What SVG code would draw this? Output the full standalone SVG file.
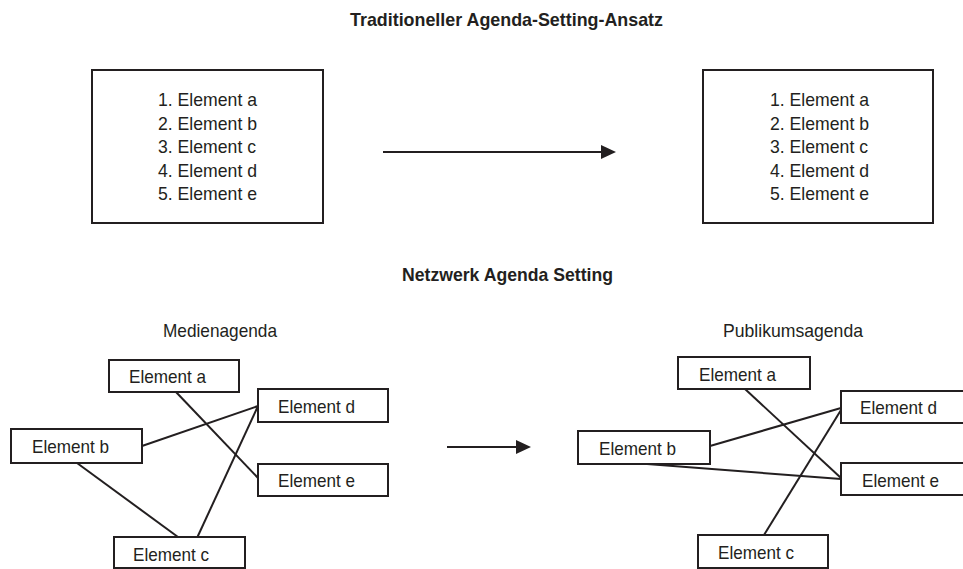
<svg xmlns="http://www.w3.org/2000/svg" width="963" height="569" viewBox="0 0 963 569">
<style>
  text { font-family: "Liberation Sans", Arial, sans-serif; font-size: 19px; fill: #231f20; }
  .title { font-weight: bold; }
  .box { fill: #ffffff; stroke: #231f20; stroke-width: 2; }
  .edge { stroke: #231f20; stroke-width: 2; fill: none; }
  .arrow { stroke: #231f20; stroke-width: 2.2; fill: none; marker-end: url(#head); }
</style>
<defs>
  <marker id="head" markerUnits="userSpaceOnUse" markerWidth="16" markerHeight="15" refX="1" refY="7" orient="auto">
    <path d="M0,0 L15,7 L0,14 z" fill="#231f20"/>
  </marker>
</defs>
<rect width="963" height="569" fill="#ffffff"/>

<g id="titles">
  <text class="title" x="350" y="26" textLength="313" lengthAdjust="spacingAndGlyphs">Traditioneller Agenda-Setting-Ansatz</text>
  <text class="title" x="402" y="281" textLength="211" lengthAdjust="spacingAndGlyphs">Netzwerk Agenda Setting</text>
  <text x="163" y="337" textLength="114" lengthAdjust="spacingAndGlyphs">Medienagenda</text>
  <text x="723" y="337" textLength="140" lengthAdjust="spacingAndGlyphs">Publikumsagenda</text>
</g>

<g id="list-left">
  <rect class="box" x="92" y="70" width="231" height="153"/>
  <text x="158" y="106" textLength="99" lengthAdjust="spacingAndGlyphs">1. Element a</text>
  <text x="158" y="129.5" textLength="99" lengthAdjust="spacingAndGlyphs">2. Element b</text>
  <text x="158" y="153" textLength="98" lengthAdjust="spacingAndGlyphs">3. Element c</text>
  <text x="158" y="176.5" textLength="99" lengthAdjust="spacingAndGlyphs">4. Element d</text>
  <text x="158" y="200" textLength="99" lengthAdjust="spacingAndGlyphs">5. Element e</text>
</g>

<g id="list-right">
  <rect class="box" x="703" y="70" width="230" height="153"/>
  <text x="770" y="106" textLength="99" lengthAdjust="spacingAndGlyphs">1. Element a</text>
  <text x="770" y="129.5" textLength="99" lengthAdjust="spacingAndGlyphs">2. Element b</text>
  <text x="770" y="153" textLength="98" lengthAdjust="spacingAndGlyphs">3. Element c</text>
  <text x="770" y="176.5" textLength="99" lengthAdjust="spacingAndGlyphs">4. Element d</text>
  <text x="770" y="200" textLength="99" lengthAdjust="spacingAndGlyphs">5. Element e</text>
</g>

<g id="connectors">
  <line class="arrow" x1="383" y1="152" x2="602" y2="152"/>
  <line class="arrow" x1="447" y1="447" x2="517" y2="447"/>
  <!-- left network -->
  <line class="edge" x1="176" y1="392" x2="258" y2="478"/>
  <line class="edge" x1="142" y1="446" x2="258" y2="406"/>
  <line class="edge" x1="197" y1="538" x2="258" y2="406"/>
  <line class="edge" x1="77" y1="463" x2="178" y2="537"/>
  <!-- right network -->
  <line class="edge" x1="745" y1="389" x2="841" y2="478"/>
  <line class="edge" x1="710" y1="446" x2="841" y2="408"/>
  <line class="edge" x1="647" y1="464" x2="841" y2="479"/>
  <line class="edge" x1="764" y1="535" x2="841" y2="410"/>
</g>

<g id="left-a">
  <rect class="box" x="109" y="360" width="130" height="32"/>
  <text x="129" y="383" textLength="77" lengthAdjust="spacingAndGlyphs">Element a</text>
</g>
<g id="left-d">
  <rect class="box" x="258" y="389" width="130" height="33"/>
  <text x="278" y="413" textLength="77" lengthAdjust="spacingAndGlyphs">Element d</text>
</g>
<g id="left-b">
  <rect class="box" x="11" y="429" width="131" height="34"/>
  <text x="32" y="453" textLength="77" lengthAdjust="spacingAndGlyphs">Element b</text>
</g>
<g id="left-e">
  <rect class="box" x="258" y="464" width="130" height="32"/>
  <text x="278" y="487" textLength="77" lengthAdjust="spacingAndGlyphs">Element e</text>
</g>
<g id="left-c">
  <rect class="box" x="114" y="537" width="131" height="31"/>
  <text x="133" y="561" textLength="76" lengthAdjust="spacingAndGlyphs">Element c</text>
</g>

<g id="right-a">
  <rect class="box" x="678" y="357" width="132" height="32"/>
  <text x="699" y="381" textLength="77" lengthAdjust="spacingAndGlyphs">Element a</text>
</g>
<g id="right-d">
  <rect class="box" x="841" y="391" width="140" height="32"/>
  <text x="860" y="414" textLength="77" lengthAdjust="spacingAndGlyphs">Element d</text>
</g>
<g id="right-b">
  <rect class="box" x="578" y="431" width="132" height="33"/>
  <text x="599" y="455" textLength="77" lengthAdjust="spacingAndGlyphs">Element b</text>
</g>
<g id="right-e">
  <rect class="box" x="841" y="463" width="140" height="32"/>
  <text x="862" y="487" textLength="77" lengthAdjust="spacingAndGlyphs">Element e</text>
</g>
<g id="right-c">
  <rect class="box" x="698" y="535" width="130" height="33"/>
  <text x="718" y="559" textLength="76" lengthAdjust="spacingAndGlyphs">Element c</text>
</g>
</svg>
